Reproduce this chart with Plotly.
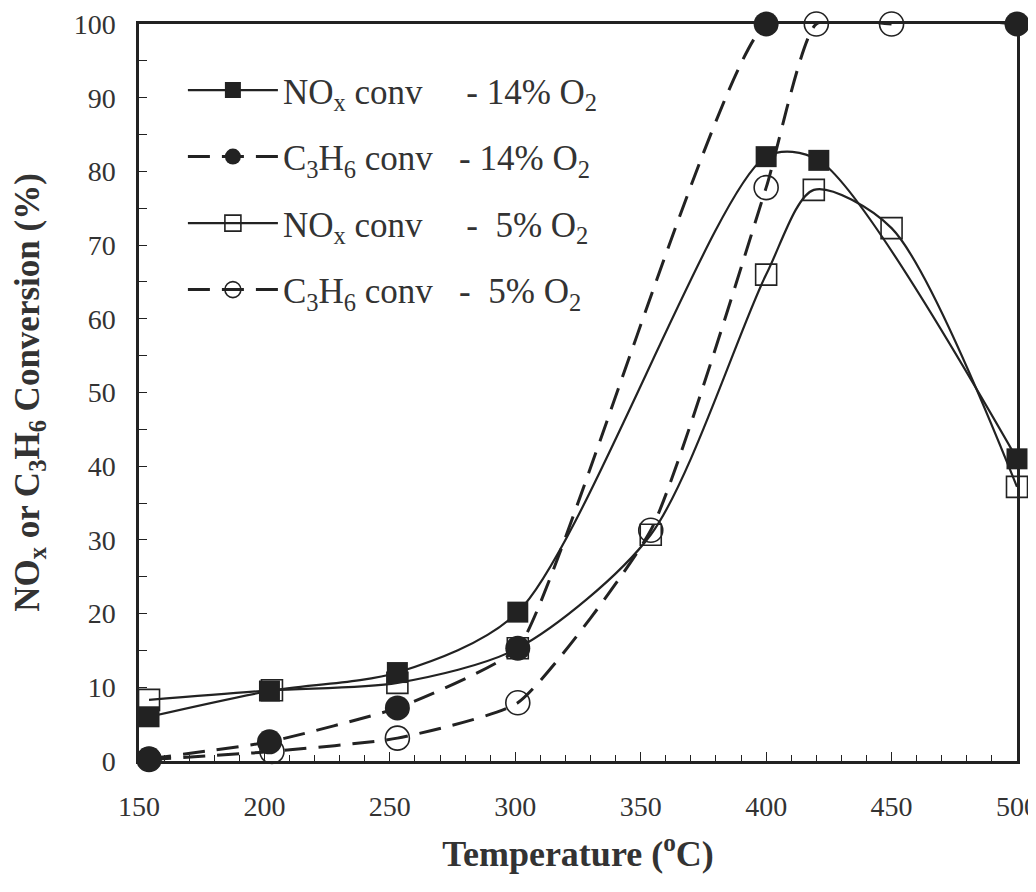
import plotly.graph_objects as go

# ---- data ----
x_nox14 = [154, 202, 253, 301, 400, 421, 500]
y_nox14 = [6.0, 9.5, 12.0, 20.2, 82.0, 81.5, 41.0]

x_c3h6_14 = [154, 202, 253, 301, 400, 500]
y_c3h6_14 = [0.3, 2.6, 7.2, 15.3, 100, 100]

x_nox5 = [154, 203, 253, 301, 354, 400, 419, 450, 500]
y_nox5 = [8.3, 9.6, 10.6, 15.3, 30.7, 66.0, 77.5, 72.3, 37.2]

x_c3h6_5 = [154, 203, 253, 301, 354, 400, 420, 450]
y_c3h6_5 = [0.2, 1.3, 3.1, 7.9, 31.3, 77.8, 100, 100]

SP = "&nbsp;"
names = [
    "NO<sub>x</sub> conv" + SP * 5 + "- 14% O<sub>2</sub>",
    "C<sub>3</sub>H<sub>6</sub> conv" + SP * 3 + "- 14% O<sub>2</sub>",
    "NO<sub>x</sub> conv" + SP * 5 + "-" + SP * 2 + "5% O<sub>2</sub>",
    "C<sub>3</sub>H<sub>6</sub> conv" + SP * 3 + "-" + SP * 2 + "5% O<sub>2</sub>",
]

x_ticks = [150, 200, 250, 300, 350, 400, 450, 500]
y_ticks = [0, 10, 20, 30, 40, 50, 60, 70, 80, 90, 100]

INK = "#222222"
TXT = "#333333"
FONT = "Liberation Serif, Times New Roman, serif"

fig = go.Figure()

# open-marker series first (drawn underneath)
fig.add_trace(go.Scatter(
    x=x_nox5, y=y_nox5, name=names[2], legendrank=3, legendgroup="c",
    mode="lines+markers", line=dict(color=INK, width=2.2, shape="spline", smoothing=0.8),
    marker=dict(symbol="square-open", size=21, color=INK, line=dict(width=1.6, color=INK)),
    cliponaxis=False,
))
fig.add_trace(go.Scatter(
    x=x_c3h6_5, y=y_c3h6_5, name=names[3], legendrank=4, legendgroup="d",
    mode="lines+markers", line=dict(color=INK, width=3, dash="22px,12px", shape="spline", smoothing=0.5),
    marker=dict(symbol="circle-open", size=24, color=INK, line=dict(width=1.6, color=INK)),
    cliponaxis=False,
))
fig.add_trace(go.Scatter(
    x=x_nox14, y=y_nox14, name=names[0], legendrank=1, legendgroup="a",
    mode="lines+markers", line=dict(color=INK, width=2.2, shape="spline", smoothing=0.8),
    marker=dict(symbol="square", size=21, color=INK),
    cliponaxis=False,
))
fig.add_trace(go.Scatter(
    x=x_c3h6_14, y=y_c3h6_14, name=names[1], legendrank=2, legendgroup="b",
    mode="lines+markers", line=dict(color=INK, width=3, dash="22px,12px", shape="spline", smoothing=0.4),
    marker=dict(symbol="circle", size=25, color=INK),
    cliponaxis=False,
))

axis_common = dict(
    showline=True, linecolor=INK, linewidth=2.5, mirror=True,
    showgrid=False, zeroline=False, automargin=False,
    ticks="inside", tickcolor=INK, tickwidth=1.2,
    tickfont=dict(family=FONT, size=28, color=TXT),
)

fig.update_xaxes(
    range=[150, 500], tickvals=x_ticks, ticklen=9,
    minor=dict(dtick=10, ticks="inside", ticklen=6, tickcolor=INK, tickwidth=1.2),
    ticklabelstandoff=19,
    title=dict(text="<b>Temperature (<sup>o</sup>C)</b>",
               font=dict(family=FONT, size=36, color=TXT), standoff=20),
    **axis_common,
)
fig.update_yaxes(
    range=[0, 100], tickvals=y_ticks, ticklen=8,
    minor=dict(dtick=5, ticks="inside", ticklen=8, tickcolor=INK, tickwidth=1.2),
    ticklabelstandoff=15,
    title=dict(text="<b>NO<sub>x</sub> or C<sub>3</sub>H<sub>6</sub> Conversion (%)</b>",
               font=dict(family=FONT, size=35, color=TXT), standoff=24),
    **axis_common,
)

fig.update_layout(
    width=1036, height=892,
    margin=dict(l=131, r=27, t=16, b=139),
    paper_bgcolor="white", plot_bgcolor="white",
    showlegend=True,
    legend=dict(
        x=0.05, y=0.95, xanchor="left", yanchor="top",
        bgcolor="rgba(0,0,0,0)", borderwidth=0,
        font=dict(family=FONT, size=35, color=TXT),
        itemwidth=90, tracegroupgap=18,
    ),
)

fig.write_html("out.html")
